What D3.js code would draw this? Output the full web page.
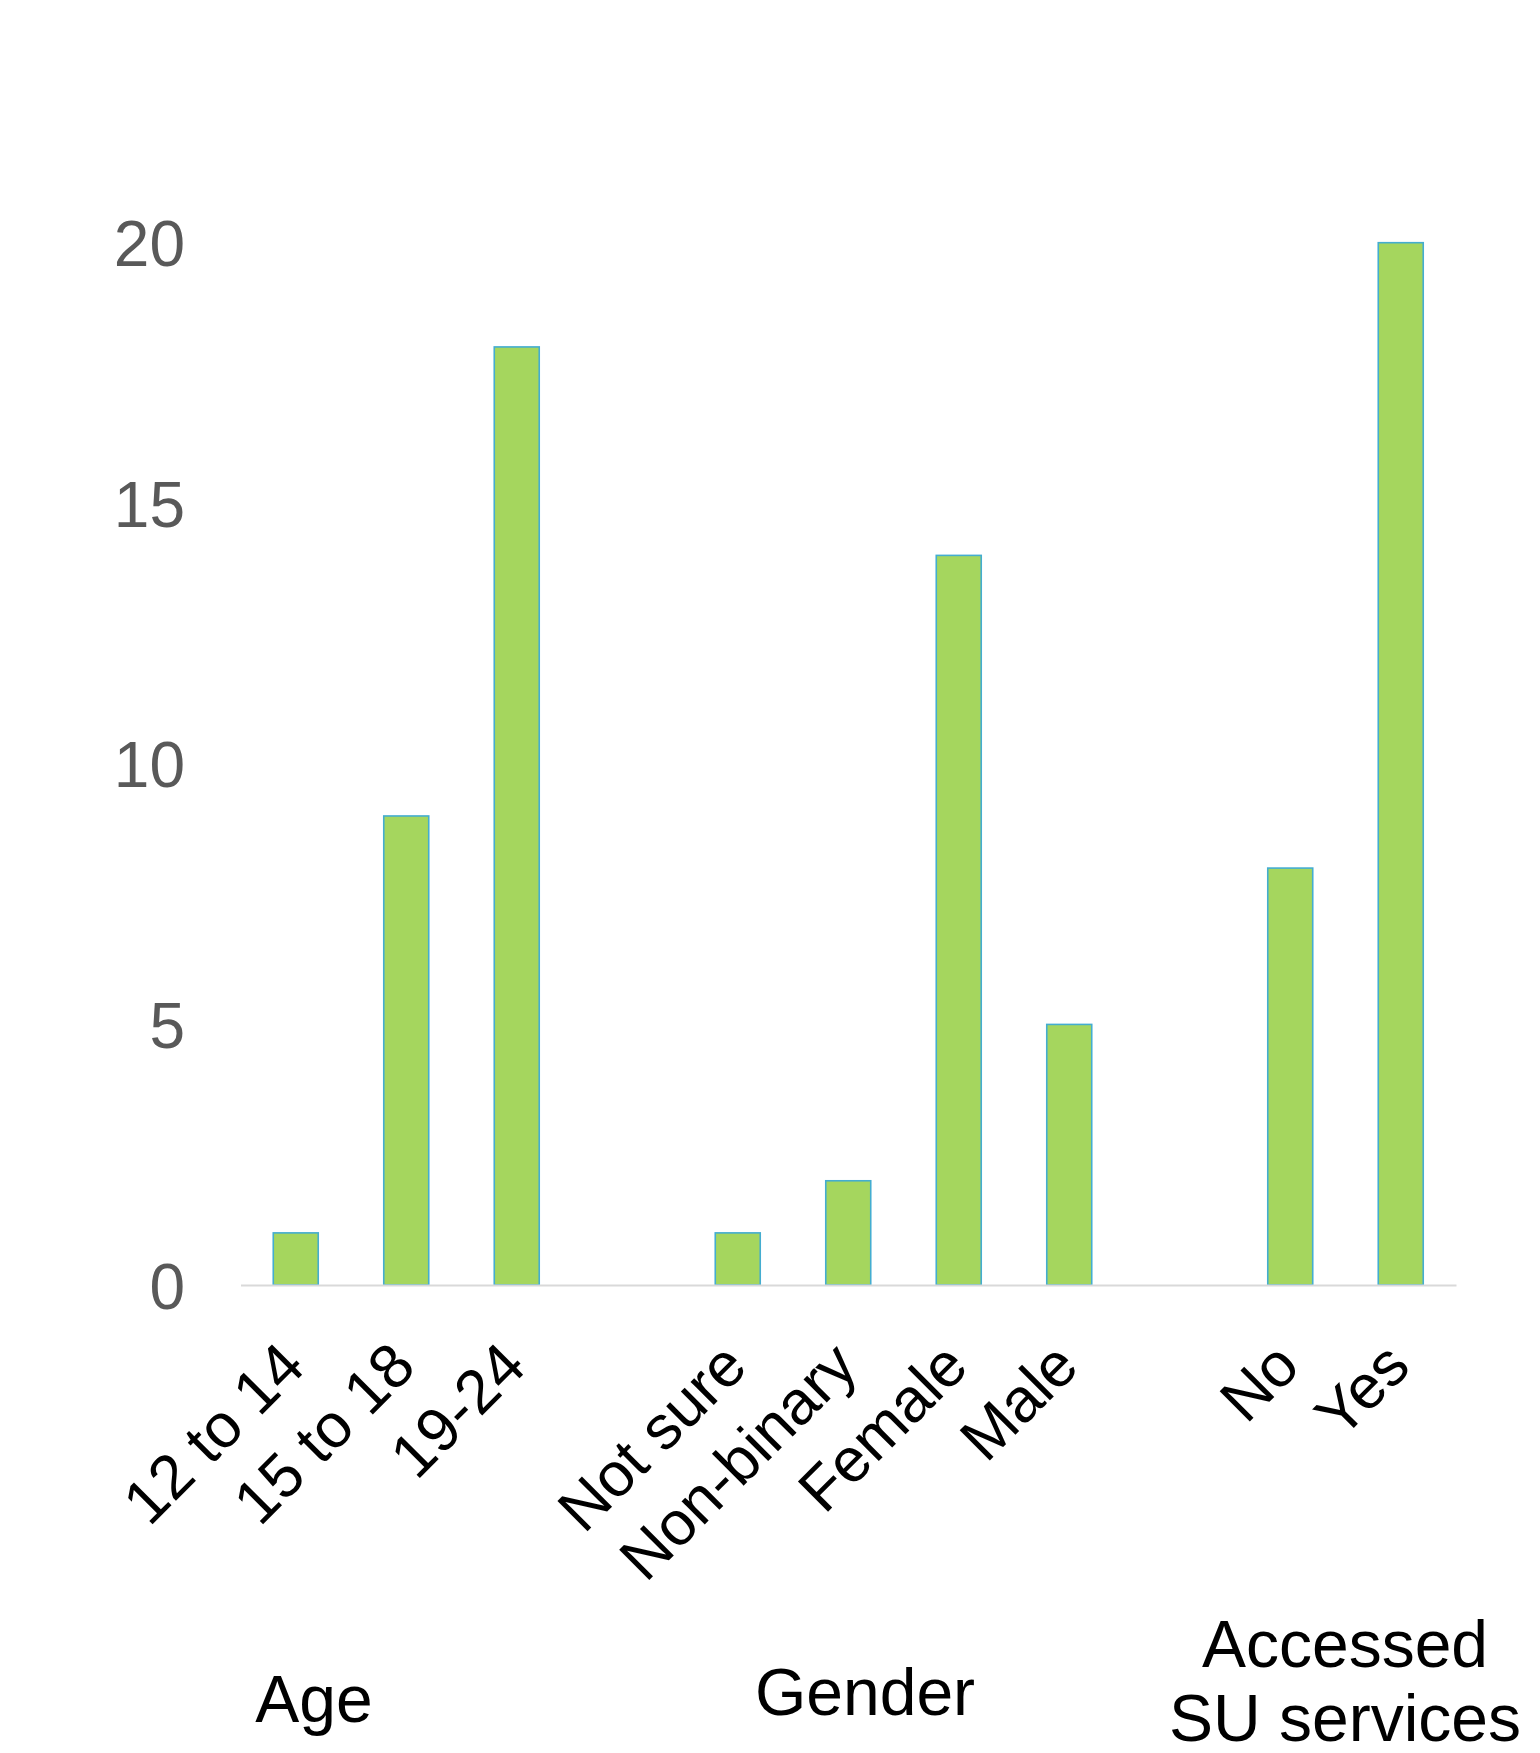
<!DOCTYPE html>
<html>
<head>
<meta charset="utf-8">
<script src="https://cdn.jsdelivr.net/npm/d3@7/dist/d3.min.js"></script>
<style>
  html, body { margin: 0; padding: 0; background: #ffffff; }
  svg { display: block; font-family: "Liberation Sans", Arial, sans-serif; }
</style>
</head>
<body>
<svg id="chart" width="1540" height="1753"></svg>
<script>
// Respondent counts, grouped by question
const groupNames = ["Age", "Gender", "Accessed SU services"];
const ageCategories = ["12 to 14", "15 to 18", "19-24"];
const ageValues = [1, 9, 18];
const genderCategories = ["Not sure", "Non-binary", "Female", "Male"];
const genderValues = [1, 2, 14, 5];
const accessCategories = ["No", "Yes"];
const accessValues = [8, 20];
const yTicks = [0, 5, 10, 15, 20];

// One blank slot separates each group on the category axis
const groups = [
  { name: groupNames[0], cats: ageCategories, vals: ageValues },
  { name: groupNames[1], cats: genderCategories, vals: genderValues },
  { name: groupNames[2], cats: accessCategories, vals: accessValues }
];
const slots = [];
groups.forEach((g, gi) => {
  if (gi > 0) slots.push({ key: "gap" + gi, label: "", value: null });
  g.cats.forEach((c, i) => slots.push({ key: g.name + "|" + c, label: c, value: g.vals[i], group: g.name }));
});

const svg = d3.select("#chart");
const plotLeft = 240.5, plotRight = 1456, baseY = 1285, topY = 242.7;

const x = d3.scaleBand()
  .domain(slots.map(d => d.key))
  .range([plotLeft, plotRight])
  .paddingInner(0.593)
  .paddingOuter(0.2965);

const y = d3.scaleLinear().domain([0, 20]).range([baseY, topY]);

// Value axis: labels only, no line or ticks
const yAxis = d3.axisLeft(y).tickValues(yTicks).tickSize(0).tickPadding(0);
const yg = svg.append("g").attr("transform", "translate(185,0)").call(yAxis);
yg.select(".domain").remove();
yg.selectAll("text")
  .attr("font-family", "'Liberation Sans', Arial, sans-serif")
  .attr("font-size", 64)
  .attr("fill", "#595959")
  .attr("x", 0)
  .attr("dy", "0.36em")
  .attr("text-anchor", "end");

// Bars
const barData = slots.filter(d => d.value !== null);
svg.append("g").selectAll("rect")
  .data(barData)
  .join("rect")
  .attr("x", d => x(d.key))
  .attr("y", d => y(d.value))
  .attr("width", x.bandwidth())
  .attr("height", d => y(0) - y(d.value))
  .attr("fill", "#A5D65E")
  .attr("stroke", "#44ADD0")
  .attr("stroke-width", 1.6);

// Category axis line
const xAxis = d3.axisBottom(x).tickSize(0).tickFormat(() => "");
const xg = svg.append("g").attr("transform", `translate(0,${baseY})`).call(xAxis);
xg.select(".domain").attr("stroke", "#D9D9D9").attr("stroke-width", 2.2);

// Rotated category labels
svg.append("g").selectAll("text")
  .data(barData)
  .join("text")
  .attr("transform", d => `translate(${x(d.key) + x.bandwidth() / 2 + 12},${baseY + 84}) rotate(-45)`)
  .attr("text-anchor", "end")
  .attr("font-size", 62)
  .attr("fill", "#000000")
  .text(d => d.label);

// Group titles below the category labels
const groupLabelPos = [
  { cx: 314, lines: [groupNames[0]], baseline: 1722 },
  { cx: 865, lines: [groupNames[1]], baseline: 1715 },
  { cx: 1345, lines: ["Accessed", "SU services"], baseline: 1667 }
];
const gl = svg.append("g");
groupLabelPos.forEach(p => {
  const t = gl.append("text")
    .attr("x", p.cx)
    .attr("y", p.baseline)
    .attr("text-anchor", "middle")
    .attr("font-size", 66)
    .attr("fill", "#000000");
  p.lines.forEach((ln, i) => {
    t.append("tspan").attr("x", p.cx).attr("dy", i === 0 ? 0 : 74).text(ln);
  });
});
</script>
</body>
</html>
